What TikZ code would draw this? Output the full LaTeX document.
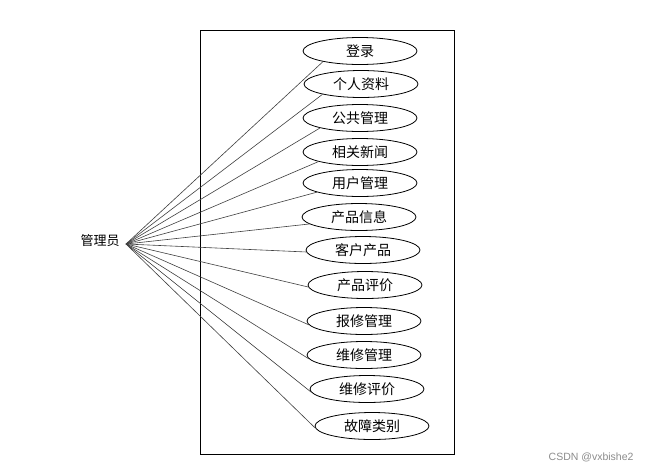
\documentclass[tikz,border=0pt]{standalone}
\usepackage{fontspec}
\setmainfont{Liberation Sans}
\newfontfamily\cjk{Noto Sans CJK SC}
\usetikzlibrary{shapes.geometric}
\begin{document}
\begin{tikzpicture}[x=1pt,y=1pt,
  usecase/.style={ellipse,draw=black,line width=0.8pt,minimum width=114pt,minimum height=27pt,inner sep=0pt,font=\cjk\fontsize{14}{16}\selectfont},
  assoc/.style={draw=black!75,line width=0.6pt},
  sysbox/.style={draw=black,line width=0.9pt}]
\useasboundingbox (0,0) rectangle (652,-472);
\fill[white] (0,0) rectangle (652,-472);
\node[sysbox,minimum width=254pt,minimum height=424pt,inner sep=0pt,anchor=north west] (sys) at (200,-30) {};
\node[font=\cjk\fontsize{13}{15}\selectfont] (actorlabel) at (100,-241) {管理员};
\coordinate (actor) at (126,-244);
\node[usecase] (u1) at (360,-51) {登录};
\node[usecase] (u2) at (361,-84) {个人资料};
\node[usecase] (u3) at (360,-118) {公共管理};
\node[usecase] (u4) at (360,-152) {相关新闻};
\node[usecase] (u5) at (360,-183) {用户管理};
\node[usecase] (u6) at (359,-217) {产品信息};
\node[usecase] (u7) at (363,-250) {客户产品};
\node[usecase] (u8) at (365,-285) {产品评价};
\node[usecase] (u9) at (364,-321) {报修管理};
\node[usecase] (u10) at (364,-355) {维修管理};
\node[usecase] (u11) at (367,-389) {维修评价};
\node[usecase] (u12) at (372,-426) {故障类别};
\foreach \u/\a in {u1/196,u2/195,u3/194,u4/193,u5/192,u6/188,u7/182,u8/182,u9/184,u10/184,u11/183,u12/182}
  \draw[assoc] (actor) -- (\u.\a);
\node[text=black!45,font=\fontsize{10.5}{12}\selectfont,anchor=east] (wm) at (637,-457) {CSDN @vxbishe2};
\end{tikzpicture}
\end{document}
